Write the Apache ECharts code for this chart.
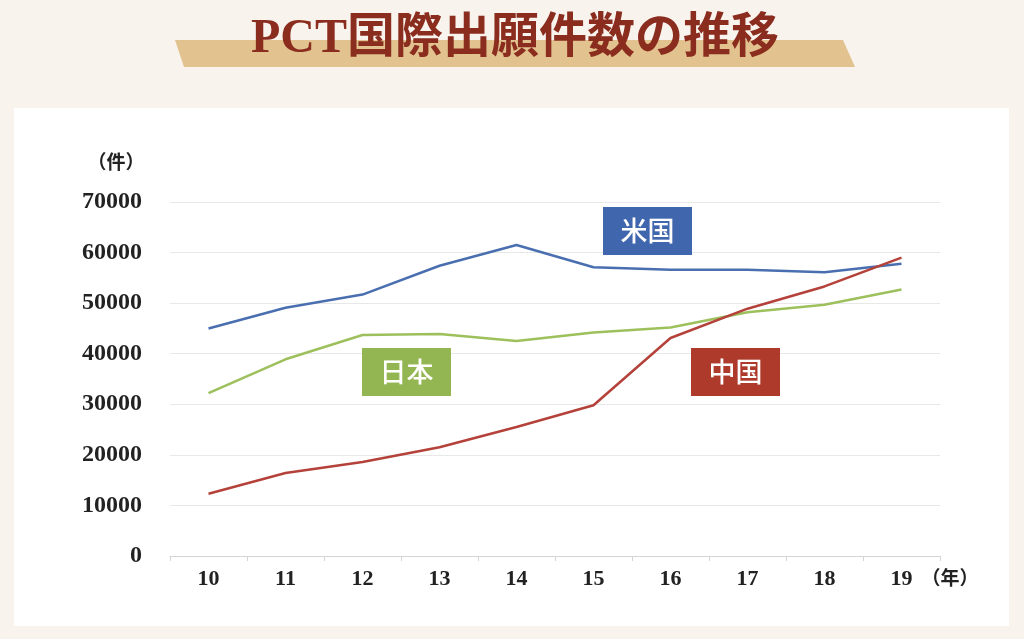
<!DOCTYPE html>
<html><head><meta charset="utf-8">
<script src="https://cdn.jsdelivr.net/npm/echarts@6/dist/echarts.min.js"></script>
<style>html,body{margin:0;padding:0;background:#f9f3ee;}#c{width:1024px;height:639px;}</style>
</head><body><div id="c"></div>
<script>
const years = ['10','11','12','13','14','15','16','17','18','19'];
const usData = [45000, 49100, 51700, 57400, 61500, 57100, 56600, 56600, 56100, 57800];
const japanData = [32200, 38900, 43700, 43900, 42500, 44200, 45200, 48200, 49700, 52700];
const chinaData = [12300, 16400, 18600, 21500, 25500, 29800, 43100, 48900, 53300, 59000];
const yTicks = [0, 10000, 20000, 30000, 40000, 50000, 60000, 70000];

const serif = '"Liberation Serif","DejaVu Serif","Noto Sans CJK JP",serif';
const chart = echarts.init(document.getElementById('c'));
function labelBox(x, y, text, color) {
  return {
    type: 'group', left: x, top: y, z: 100,
    children: [
      {type: 'rect', z: 100, shape: {x: 0, y: 0, width: 89, height: 48}, style: {fill: color}},
      {type: 'text', z: 101, style: {x: 44.5, y: 24, text: text, fill: '#fff', font: '500 27px "Noto Sans CJK JP"', align: 'center', verticalAlign: 'middle'}}
    ]
  };
}
chart.setOption({
  backgroundColor: '#f9f3ee',
  animation: false,
  graphic: [
    {type: 'rect', shape: {x: 14, y: 108, width: 995, height: 518}, style: {fill: '#ffffff'}, z: -10},
    {type: 'polygon', shape: {points: [[175, 40], [843, 40], [855, 67], [184, 67]]}, style: {fill: '#e2c28f'}, z: -5},
    {type: 'text', style: {x: 515, y: 40, text: 'PCT国際出願件数の推移', fill: '#8a2c1e', font: 'bold 48px "Liberation Serif","Noto Sans CJK JP",serif', align: 'center', verticalAlign: 'middle'}},
    {type: 'text', style: {x: 116, y: 162, text: '（件）', fill: '#222', font: 'bold 19px "Noto Sans CJK JP"', align: 'center', verticalAlign: 'middle'}},
    {type: 'text', style: {x: 950, y: 578, text: '（年）', fill: '#222', font: 'bold 19px "Noto Sans CJK JP"', align: 'center', verticalAlign: 'middle'}},
    labelBox(603, 207, '米国', '#4066ad'),
    labelBox(362, 348, '日本', '#93b652'),
    labelBox(691, 348, '中国', '#ae3a2c')
  ],
  grid: {left: 170, right: 84, top: 202, bottom: 83},
  xAxis: {
    type: 'category', data: years, boundaryGap: true,
    axisLine: {lineStyle: {color: '#d4d4d4', width: 1}},
    axisTick: {show: true, length: 5, lineStyle: {color: '#d4d4d4'}},
    axisLabel: {color: '#222', fontFamily: serif, fontWeight: 'bold', fontSize: 22, margin: 12}
  },
  yAxis: {
    type: 'value', min: 0, max: 70000, interval: 10000,
    axisLine: {show: false}, axisTick: {show: false},
    splitLine: {lineStyle: {color: '#e8e8e8'}},
    axisLabel: {color: '#222', fontFamily: serif, fontWeight: 'bold', fontSize: 24, margin: 28,
      customValues: yTicks, formatter: function (v) { return String(v); }}
  },
  series: [
    {name: '米国', type: 'line', data: usData, symbol: 'none', lineStyle: {color: '#4a6fb0', width: 2.5}},
    {name: '日本', type: 'line', data: japanData, symbol: 'none', lineStyle: {color: '#9dc05c', width: 2.5}},
    {name: '中国', type: 'line', data: chinaData, symbol: 'none', lineStyle: {color: '#b4423a', width: 2.5}}
  ]
});
</script></body></html>
